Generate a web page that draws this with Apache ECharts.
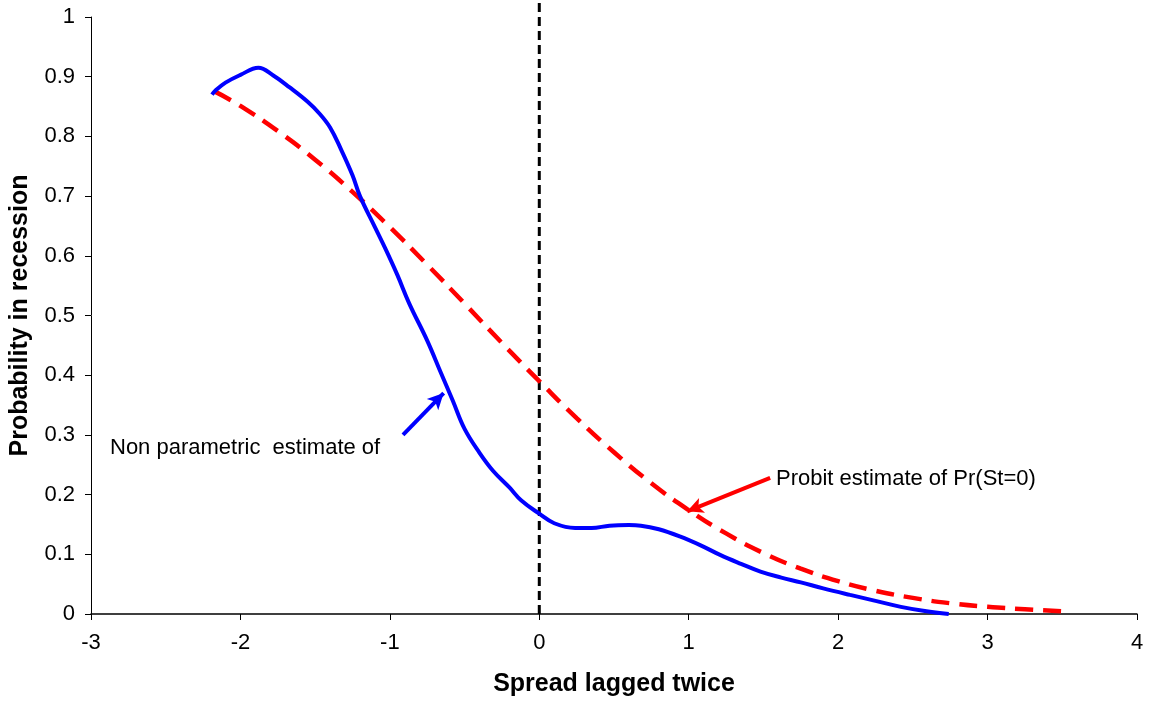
<!DOCTYPE html>
<html><head><meta charset="utf-8">
<script src="https://cdn.jsdelivr.net/npm/echarts@6/dist/echarts.min.js"></script>
<style>html,body{margin:0;padding:0;background:#fff}#c{width:1163px;height:704px}</style>
</head><body><div id="c"></div>
<script>
var xTicks = [-3,-2,-1,0,1,2,3,4];
var yTicks = [0,0.1,0.2,0.3,0.4,0.5,0.6,0.7,0.8,0.9,1];
var nonParX = [-2.19,-2.17,-2.1,-2.0,-1.88,-1.78,-1.67,-1.55,-1.47,-1.4,-1.33,-1.25,-1.2,-1.1,-1.03,-0.95,-0.87,-0.75,-0.66,-0.58,-0.5,-0.4,-0.31,-0.2,-0.12,0.0,0.1,0.24,0.35,0.47,0.6,0.68,0.8,0.94,1.08,1.21,1.35,1.48,1.62,1.75,1.9,2.08,2.25,2.42,2.58,2.74];
var nonParY = [0.87,0.876,0.89,0.903,0.915,0.902,0.882,0.858,0.838,0.815,0.78,0.735,0.70,0.648,0.612,0.568,0.52,0.458,0.405,0.358,0.31,0.27,0.24,0.212,0.19,0.168,0.152,0.144,0.144,0.148,0.149,0.148,0.142,0.13,0.115,0.099,0.084,0.071,0.061,0.053,0.043,0.032,0.022,0.012,0.005,0.0];
var probitX = [-2.17,-2.0,-1.75,-1.5,-1.25,-1.0,-0.75,-0.5,-0.25,0.0,0.25,0.5,0.75,1.0,1.25,1.5,1.75,2.0,2.25,2.5,2.75,3.0,3.25,3.55];
var probitY = [0.875,0.851,0.809,0.761,0.707,0.648,0.585,0.52,0.454,0.39,0.328,0.271,0.219,0.174,0.135,0.102,0.076,0.055,0.039,0.027,0.018,0.012,0.008,0.004];
var refX = [0, 0];
var refY = [0, 1.03];

function zip(a,b){return a.map(function(v,i){return [v,b[i]];});}
var ff = 'Arial, "Liberation Sans", sans-serif';
var chart = echarts.init(document.getElementById('c'));
chart.setOption({
  animation:false,
  grid:{left:91,right:26,top:17,bottom:90,containLabel:false,outerBoundsMode:'none'},
  xAxis:{type:'value',min:-3,max:4,interval:1,
    name:'Spread lagged twice',nameLocation:'middle',nameGap:58,
    nameTextStyle:{fontFamily:ff,fontSize:25,fontWeight:'bold',color:'#000'},
    axisLine:{onZero:false,lineStyle:{color:'#000',width:1.5}},
    axisTick:{inside:false,length:6,lineStyle:{color:'#000',width:1}},
    axisLabel:{fontFamily:ff,fontSize:22,color:'#000',margin:18},
    splitLine:{show:false}},
  yAxis:{type:'value',min:0,max:1,interval:0.1,
    name:'Probability in recession',nameLocation:'middle',nameGap:58,
    nameTextStyle:{fontFamily:ff,fontSize:25,fontWeight:'bold',color:'#000'},
    axisLine:{show:true,onZero:false,lineStyle:{color:'#000',width:1}},
    axisTick:{show:true,length:6,lineStyle:{color:'#000'}},
    axisLabel:{fontFamily:ff,fontSize:22,color:'#000',margin:16,
      formatter:function(v){return String(Math.round(v*10)/10);}},
    splitLine:{show:false}},
  series:[
    {type:'line',data:zip(refX,refY),symbol:'none',clip:false,silent:true,
      lineStyle:{color:'#000',width:3,type:[9,5]},z:1},
    {type:'line',data:zip(probitX,probitY),symbol:'none',smooth:true,
      lineStyle:{color:'#ff0000',width:4.5,type:[18,10]},z:2,
      markLine:{silent:true,symbol:['none','arrow'],symbolSize:[12,16],
        lineStyle:{color:'#ff0000',width:4,type:'solid'},label:{show:false},
        data:[[{coord:[1.545,0.228]},{coord:[0.99,0.172]}]]}},
    {type:'line',data:zip(nonParX,nonParY),symbol:'none',smooth:0.4,
      lineStyle:{color:'#0000ff',width:4},z:3,
      markLine:{silent:true,symbol:['none','arrow'],symbolSize:[12,16],
        lineStyle:{color:'#0000ff',width:4,type:'solid'},label:{show:false},
        data:[[{coord:[-0.912,0.30]},{coord:[-0.64,0.37]}]]}}
  ],
  graphic:[
    {type:'text',left:110,top:437,style:{text:'Non parametric  estimate of',font:'22px '+ff,fill:'#000'}},
    {type:'text',left:776,top:468,style:{text:'Probit estimate of Pr(St=0)',font:'22px '+ff,fill:'#000'}}
  ]
});
</script></body></html>
